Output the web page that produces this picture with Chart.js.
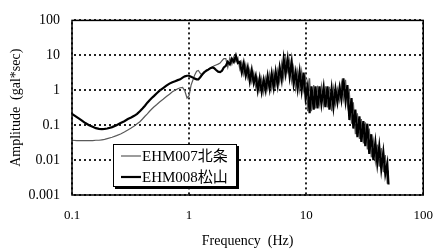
<!DOCTYPE html>
<html><head><meta charset="utf-8">
<script src="https://cdn.jsdelivr.net/npm/chart.js@4.4.0/dist/chart.umd.min.js"></script>
<style>html,body{margin:0;padding:0;background:#fff;} canvas{display:block;}</style>
</head><body>
<canvas id="c" width="446" height="251"></canvas>
<script>
const freq = [0.1,0.11,0.12,0.13,0.14,0.15,0.16,0.17,0.18,0.19,0.2,0.22,0.24,0.26,0.28,0.3,0.32,0.34,0.36,0.38,0.4,0.42,0.44,0.46,0.48,0.5,0.53,0.56,0.6,0.64,0.68,0.72,0.76,0.8,0.84,0.88,0.92,0.96,1.0,1.04,1.08,1.12,1.16,1.2,1.25,1.3,1.35,1.4,1.46,1.52,1.58,1.64,1.7,1.77,1.84,1.91,1.98,
2.06,2.14,2.23,2.32,2.41,2.51,2.61,2.71,2.82,2.93,
3.05,3.17,3.3,3.43,3.57,3.71,3.86,4.01,4.17,4.34,
4.51,4.69,4.88,5.08,5.28,5.49,5.71,5.94,6.18,6.43,
6.68,6.95,7.23,7.52,7.82,8.13,8.46,8.8,9.15,9.51,
9.89,10.3,10.7,11.1,11.6,12.0,12.5,13.0,13.5,14.1,
14.6,15.2,15.8,16.5,17.1,17.8,18.5,19.3,20.0,20.8,
21.7,22.5,23.4,24.4,25.3,26.3,27.4,28.5,29.6,30.8,
32.0,33.3,34.6,36.0,37.5,39.0,40.5,42.1,43.8,45.6,
47.4,49.3,50.5];

const ampEHM007 = [0.037,0.036,0.036,0.036,0.036,0.036,0.037,0.037,0.038,0.039,
0.041,0.045,0.05,0.056,0.064,0.073,0.083,0.095,0.11,0.125,
0.15,0.18,0.21,0.25,0.29,0.33,0.39,0.46,0.55,0.66,
0.77,0.9,1.0,1.1,1.18,1.2,0.95,0.6,0.7,1.4,
2.0,2.8,3.5,3.7,3.0,2.7,3.2,3.8,4.0,4.2,
4.6,5.0,5.3,5.6,6.0,7.0,8.0,
8.0,4.5,8.5,5.5,9.0,6.5,8.5,4.0,6.5,2.8,
5.5,2.2,4.0,1.7,3.2,1.2,2.2,1.0,2.2,0.85,
2.3,1.1,3.0,1.1,3.2,1.3,3.8,1.7,6.0,2.2,
8.3,3.5,7.5,1.8,4.5,1.1,3.5,1.0,3.5,1.0,
2.3,0.25,2.2,0.25,1.4,0.3,1.35,0.4,1.35,0.38,
1.3,0.32,1.25,0.25,1.15,0.4,1.1,0.5,1.6,0.55,
2.0,0.35,0.85,0.11,0.45,0.055,0.22,0.04,0.15,0.03,
0.12,0.02,0.08,0.012,0.036,0.009,0.028,0.0065,0.022,0.0045,
0.014,0.0021,0.005];

const ampEHM008 = [0.21,0.17,0.14,0.115,0.1,0.09,0.082,0.078,0.077,0.078,
0.08,0.088,0.1,0.115,0.13,0.15,0.165,0.185,0.21,0.25,
0.3,0.36,0.44,0.52,0.6,0.68,0.82,0.97,1.15,1.35,
1.55,1.7,1.82,1.95,2.05,2.3,2.5,2.6,2.6,2.45,
2.3,2.15,2.05,2.05,2.4,2.9,3.3,3.6,3.9,4.3,
4.5,4.3,3.8,3.4,3.3,3.6,4.5,
5.0,6.5,5.5,8.0,6.5,9.8,6.0,6.5,3.2,6.0,
2.6,4.5,1.8,3.8,1.6,2.6,1.0,2.2,0.9,2.0,
1.0,2.6,1.1,3.0,1.2,3.4,1.4,4.5,2.0,8.0,
3.0,8.0,2.4,6.5,1.5,3.3,1.1,3.4,1.0,3.2,
0.6,1.3,0.22,1.3,0.28,1.3,0.3,1.3,0.4,1.2,
0.33,1.3,0.28,1.1,0.33,1.1,0.45,1.2,0.55,2.2,
0.5,1.4,0.14,0.6,0.08,0.28,0.045,0.18,0.033,0.13,
0.025,0.11,0.015,0.055,0.01,0.032,0.008,0.025,0.0055,0.017,
0.004,0.008,0.002];

const seriesNames = ['EHM007北条','EHM008松山'];
const xTicks = [0.1,1,10,100];
const xTickLabels = ['0.1','1','10','100'];
const yTicks = [0.001,0.01,0.1,1,10,100];
const yTickLabels = ['0.001','0.01','0.1','1','10','100'];
const xTitle = 'Frequency  (Hz)';
const yTitle = 'Amplitude  (gal*sec)';

const FONT = '"Liberation Serif", "Noto Sans CJK JP", serif';
Chart.defaults.font.family = FONT;
Chart.defaults.color = '#000';

const toPts = a => freq.map((f,i)=>({x:f,y:a[i]}));

// dotted grid at the tick positions, placed through the chart's own scales
const dottedGrid = {
  id:'dottedGrid',
  beforeDatasetsDraw(chart){
    const {ctx, chartArea:a, scales} = chart;
    ctx.save();
    ctx.fillStyle='#222';
    scales.x.ticks.forEach(t=>{
      const px = Math.round(scales.x.getPixelForValue(t.value));
      for (let y=a.top+2; y<a.bottom; y+=5) ctx.fillRect(px-1, y, 2, 2);
    });
    scales.y.ticks.forEach(t=>{
      const py = Math.round(scales.y.getPixelForValue(t.value));
      for (let x=a.left+2; x<a.right; x+=5) ctx.fillRect(x, py-1, 2, 2);
    });
    ctx.restore();
  }
};

const framePlugin = {
  id:'frame',
  afterDatasetsDraw(chart){
    const {ctx, chartArea:a} = chart;
    ctx.save();
    ctx.strokeStyle='#000'; ctx.lineWidth=1.5;
    ctx.strokeRect(a.left, a.top, a.right-a.left, a.bottom-a.top);
    ctx.restore();
  }
};

const legendPlugin = {
  id:'boxLegend',
  afterDraw(chart){
    const ctx = chart.ctx;
    const x=113, y=144, w=124, h=43;
    ctx.save();
    ctx.fillStyle='#000'; ctx.fillRect(x+2,y+2,w,h);
    ctx.fillStyle='#fff'; ctx.fillRect(x,y,w,h);
    ctx.strokeStyle='#000'; ctx.lineWidth=1; ctx.strokeRect(x+0.5,y+0.5,w-1,h-1);
    chart.data.datasets.forEach((ds,i)=>{
      const ly = y+12+i*21;
      ctx.strokeStyle=ds.borderColor; ctx.lineWidth=ds.borderWidth;
      ctx.beginPath(); ctx.moveTo(x+8,ly); ctx.lineTo(x+28,ly); ctx.stroke();
      ctx.fillStyle='#000'; ctx.font='15px '+FONT;
      ctx.textBaseline='middle'; ctx.textAlign='left';
      ctx.fillText(ds.label, x+29, ly+1);
    });
    ctx.restore();
  }
};

new Chart(document.getElementById('c'), {
  type:'line',
  data:{ datasets:[
    {label:seriesNames[0], data:toPts(ampEHM007), borderColor:'#5a5a5a', borderWidth:1.2, pointRadius:0, tension:0, order:1},
    {label:seriesNames[1], data:toPts(ampEHM008), borderColor:'#000000', borderWidth:2.2, pointRadius:0, tension:0, order:0}
  ]},
  options:{
    responsive:false, animation:false, devicePixelRatio:1,
    layout:{padding:{left:0,right:12,top:13,bottom:0}},
    plugins:{legend:{display:false}, tooltip:{enabled:false}},
    scales:{
      x:{type:'logarithmic', min:0.1, max:100,
        afterBuildTicks:s=>{s.ticks=xTicks.map(v=>({value:v}));},
        afterFit:s=>{s.height=56;},
        ticks:{callback:(v,i)=>xTickLabels[i], padding:13, font:{size:13}, maxRotation:0, autoSkip:false},
        grid:{display:false, drawTicks:false},
        border:{display:false},
        title:{display:true, text:xTitle, font:{size:14}, padding:{top:0,bottom:1}}
      },
      y:{type:'logarithmic', min:0.001, max:100,
        afterBuildTicks:s=>{s.ticks=yTicks.map(v=>({value:v}));},
        afterFit:s=>{s.width=72;},
        ticks:{callback:(v,i)=>yTickLabels[i], padding:12, font:{size:14}, autoSkip:false},
        grid:{display:false, drawTicks:false},
        border:{display:false},
        title:{display:true, text:yTitle, font:{size:14}, padding:{top:8,bottom:0}}
      }
    }
  },
  plugins:[dottedGrid, framePlugin, legendPlugin]
});
</script>
</body></html>
